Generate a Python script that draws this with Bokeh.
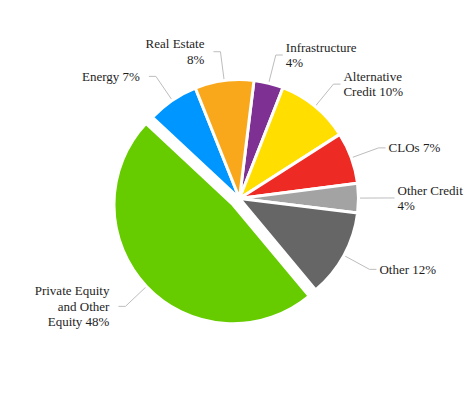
import numpy as np
from bokeh.plotting import figure
from bokeh.models import Range1d, ColumnDataSource
from bokeh.core.properties import value
from bokeh.embed import file_html
from bokeh.resources import INLINE

# ---- data (clockwise from the top) ----
categories = ["Infrastructure", "Alternative Credit", "CLOs", "Other Credit",
              "Other", "Private Equity and Other Equity", "Energy", "Real Estate"]
shares = [4, 10, 7, 4, 12, 48, 7, 8]
labels = ["Infrastructure\n4%", "Alternative\nCredit 10%", "CLOs 7%", "Other Credit\n4%",
          "Other 12%", "Private Equity\nand Other\nEquity 48%", "Energy 7%", "Real Estate\n8%"]
colors = ["#7E3193", "#FFDE00", "#EE2A24", "#A3A3A3",
          "#666666", "#66CC00", "#0096FF", "#F9A81C"]
exploded = [False, False, False, False, False, True, False, False]

# ---- layout ----
W, H = 474, 400
CX, CY = 239, 400 - 198      # pie centre (page px, y flipped)
R = 119                       # radius
START = 7.0                   # degrees clockwise from 12 o'clock
EXPLODE = 9
ELBOW = 148
LINE = 15.5
FONT = value("Liberation Serif")

vals = np.array(shares, dtype=float)
deg = vals / vals.sum() * 360.0
th_s = START + np.concatenate([[0], np.cumsum(deg)[:-1]])
th_e = th_s + deg
th_m = np.radians((th_s + th_e) / 2)

off = np.array([EXPLODE if e else 0 for e in exploded], dtype=float)
xc = CX + off * np.sin(th_m)
yc = CY + off * np.cos(th_m)

src = ColumnDataSource(dict(
    x=xc, y=yc,
    start=np.pi / 2 - np.radians(th_s),
    end=np.pi / 2 - np.radians(th_e),
    color=colors, cat=categories))

p = figure(width=W, height=H, output_backend="svg", toolbar_location=None,
           x_range=Range1d(0, W), y_range=Range1d(400 - H, 400),
           min_border=0)
p.axis.visible = False
p.grid.visible = False
p.outline_line_color = None
p.background_fill_color = "white"

# connectors and labels
xs, ys = [], []
lx, ly, lt = [], [], []
rx, ry, rt = [], [], []
for i in range(len(shares)):
    s, c = np.sin(th_m[i]), np.cos(th_m[i])
    x0, y0 = xc[i] + R * s, yc[i] + R * c
    x1, y1 = xc[i] + ELBOW * s, yc[i] + ELBOW * c
    side = 1 if s >= 0 else -1
    x2 = x1 + side * 7
    xs.append([x0, x1, x2])
    ys.append([y0, y1, y1])
    lines = labels[i].split("\n")
    n = len(lines)
    for k, t in enumerate(lines):
        yy = y1 + ((n - 1) / 2 - k) * LINE
        if side > 0:
            rx.append(x2 + 3); ry.append(yy); rt.append(t)
        else:
            lx.append(x2 - 9); ly.append(yy); lt.append(t)

p.multi_line(xs, ys, line_color="#BDBDBD", line_width=1)

p.wedge(x="x", y="y", radius=R, start_angle="start", end_angle="end",
        direction="clock", fill_color="color", line_color="white",
        line_width=3, source=src)

p.text(rx, ry, text=rt, text_align="left", text_baseline="middle",
       text_font=FONT, text_font_size="13px", text_color="#1e1e1e")
p.text(lx, ly, text=lt, text_align="right", text_baseline="middle",
       text_font=FONT, text_font_size="13px", text_color="#1e1e1e")

open("out.html", "w").write(file_html(p, INLINE))
